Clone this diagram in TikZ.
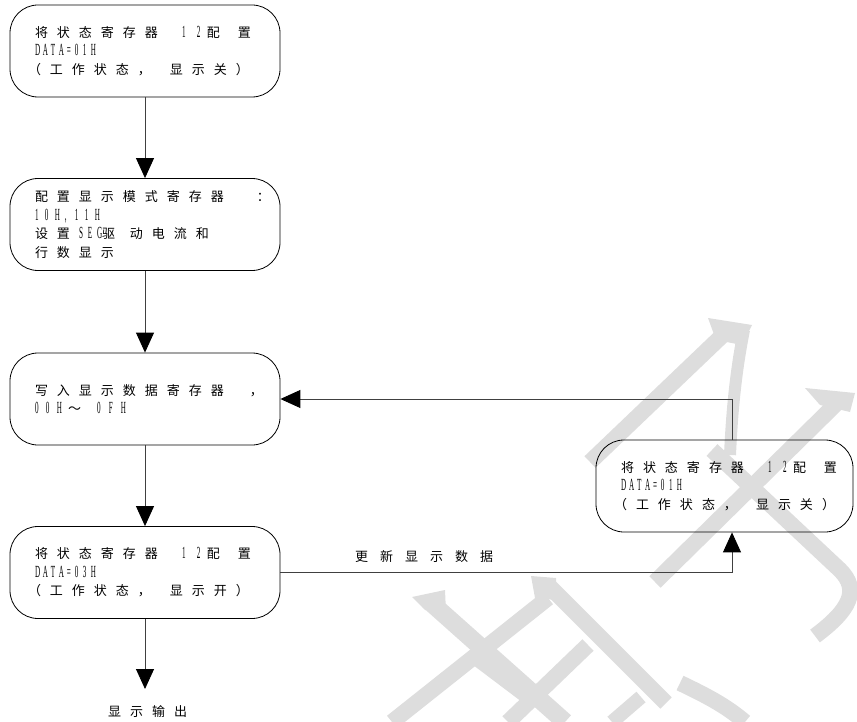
\documentclass[tikz,border=0pt]{standalone}
\usepackage{fontspec}
\usetikzlibrary{arrows.meta}
\newfontfamily\cjkf{Noto Sans CJK SC}
\newfontfamily\latf[FakeStretch=0.42]{Liberation Serif}
\definecolor{wmgray}{RGB}{221,221,221}
\makeatletter
\newcommand\cjs[2][9pt]{{\cjkf\fontsize{13pt}{18.5pt}\selectfont\@tfor\@tok:=#2\do{\@tok\kern#1}}}
\newcommand\lts[2][8pt]{{\latf\fontsize{17pt}{18.5pt}\selectfont\@tfor\@tok:=#2\do{\makebox[#1][l]{\@tok}}}}
\makeatother
\newdimen\linew \linew=220pt
\newcommand\txl[1]{\hbox to \linew{#1\hfil}}
\newcommand\txtblock[1]{\vbox{\baselineskip=18.5pt\lineskiplimit=-100pt\lineskip=0pt #1}}
\newcommand\lineA{\cjs{将状态寄存器}\kern15pt\lts[15pt]{12}\kern-5pt\cjs{配}\kern9pt\cjs{置}}
\newcommand\lineP[1]{\kern-7pt\cjs{（工作状态，}\kern10pt\cjs{#1）}}
\begin{document}
\begin{tikzpicture}[x=1pt,y=-1pt,
  box/.style={draw=black, line width=0.8pt, rounded corners=28pt, minimum height=92pt,
    inner xsep=25pt, inner ysep=0pt, font=\cjkf\fontsize{13pt}{18.5pt}\selectfont},
  lbl/.style={inner sep=0pt, font=\cjkf\fontsize{13pt}{18.5pt}\selectfont},
  conn/.style={draw=black!75, line width=0.9pt},
  arr/.style={-{Triangle[length=20pt,width=18pt,color=black,fill=black]}},
  wm/.style={draw=wmgray, line cap=butt},
  wmf/.style={fill=wmgray}]
\useasboundingbox (0,0) rectangle (857,722);
% watermark
\draw[wm, line width=16pt] (725,333) -- (590,462);
\fill[wmf] (708,318) -- (752,325) -- (742,345) -- (716,340) -- cycle;
\draw[wm, line width=12pt] (744,330) .. controls (736,370) and (732,410) .. (730,455);
\draw[wm, line width=16pt] (712,450) -- (840,570) .. controls (860,590) and (850,610) .. (815,636);
\draw[wm, line width=16pt] (842,398) -- (655,582);
\fill[wmf] (805,388) -- (855,393) -- (850,412) -- (820,405) -- cycle;
\draw[wm, line width=18pt] (428,600) -- (565,722);
\fill[wmf] (412,597) -- (445,590) -- (446,612) -- (425,610) -- cycle;
\draw[wm, line width=16pt] (548,598) -- (392,722);
\draw[wm, line width=16pt] (548,585) -- (666,703);
\fill[wmf] (531,576) -- (556,578) -- (556,600) -- (535,598) -- cycle;
\draw[wm, line width=16pt] (588,645) -- (508,722);
\draw[wm, line width=14pt] (641,697) -- (612,722);
\draw[wm, line width=16pt] (680,683) .. controls (705,695) and (725,705) .. (745,722);
\draw[wm, line width=14pt] (478,660) -- (531,700);
% boxes
\node[box] (b1) at (145,51) {\txtblock{\txl{\lineA}\txl{\lts{DATA=01H}}\txl{\lineP{显示关}}}};
\node[box] (b2) at (145,224.5) {\txtblock{\txl{\cjs{配置显示模式寄存器}\kern24pt\cjs{：}}\txl{\lts[10pt]{10H,11H}}\txl{\cjs{设置}\lts[9pt]{SEG}\kern-4pt\cjs{驱}\kern6pt\cjs{动电流和}}\txl{\cjs{行数显示}}}};
\node[box] (b3) at (145,399) {\txtblock{\txl{\cjs{写入显示数据寄存器}\kern17pt\cjs{，}}\txl{\lts[11pt]{00H}\cjs{～}\kern7pt\lts[12pt]{0FH}}}};
\node[box] (b4) at (145,572.5) {\txtblock{\txl{\lineA}\txl{\lts{DATA=03H}}\txl{\lineP{显示开}}}};
\linew=207pt
\node[box] (b5) at (724.5,486) {\txtblock{\txl{\lineA}\txl{\lts{DATA=01H}}\txl{\lineP{显示关}}}};
\node[lbl, anchor=west] (upd) at (355,557) {\cjs[12pt]{更新显示数据}};
\node[lbl, anchor=west] (out) at (108,712) {\cjs{显示输出}};
\coordinate (outtip) at (145,689);
% connectors
\draw[conn,arr] (b1.south) -- (b2.north);
\draw[conn,arr] (b2.south) -- (b3.north);
\draw[conn,arr] (b3.south) -- (b4.north);
\draw[conn,arr] (b4.south) -- (outtip);
\draw[conn,arr] (b4.east) -| ([xshift=7.5pt]b5.south);
\draw[conn,arr] ([xshift=7.5pt]b5.north) |- (b3.east);
\end{tikzpicture}
\end{document}
